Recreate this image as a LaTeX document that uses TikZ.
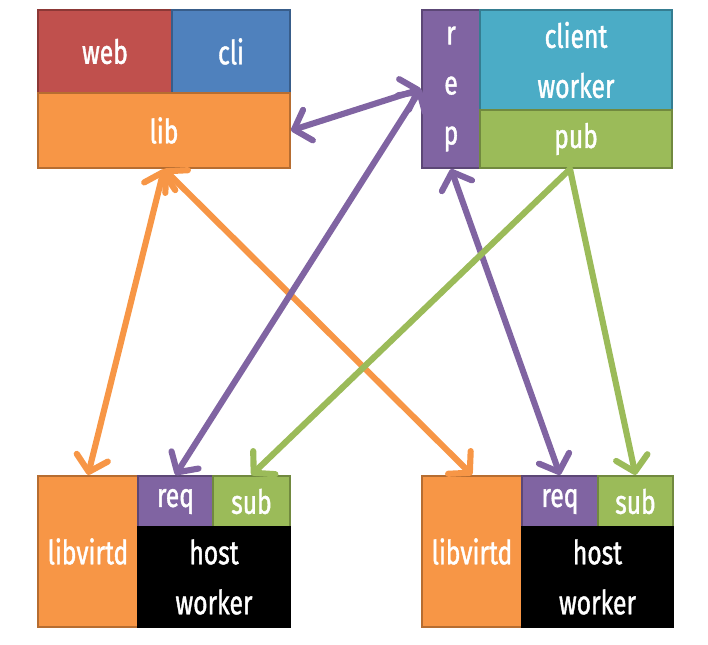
\documentclass[tikz,border=0pt]{standalone}
\usepackage{fontspec}
\setmainfont[FakeStretch=0.74,FakeBold=1.2]{Fira Sans}
\usetikzlibrary{arrows.meta}
\definecolor{cred}{HTML}{C0504D}
\definecolor{credd}{HTML}{8C3836}
\definecolor{cblue}{HTML}{4F81BD}
\definecolor{cblued}{HTML}{385D8A}
\definecolor{corange}{HTML}{F79646}
\definecolor{coranged}{HTML}{B66D31}
\definecolor{cpurple}{HTML}{8064A2}
\definecolor{cpurpled}{HTML}{5C4776}
\definecolor{cteal}{HTML}{4BACC6}
\definecolor{cteald}{HTML}{357D91}
\definecolor{cgreen}{HTML}{9BBB59}
\definecolor{cgreend}{HTML}{71893F}
\tikzset{
  cellbox/.style={draw, line width=1.6pt, inner sep=0pt, text=white,
    font=\fontsize{25}{37.5}\selectfont, align=center},
  barb/.tip={Straight Barb[length=11pt,width=24pt,line cap=round,line join=round]},
  link/.style={line width=4.6pt, line cap=round, barb-barb},
  onelink/.style={line width=4.6pt, line cap=round, -barb}
}
\begin{document}
\begin{tikzpicture}[x=0.75pt,y=-0.75pt]
\useasboundingbox (0,0) rectangle (708,645);
% top-left block
\node[cellbox, fill=cred, draw=credd, minimum width=100.5pt, minimum height=62.25pt] (web) at (105,51.5) {web};
\node[cellbox, fill=cblue, draw=cblued, minimum width=88.5pt, minimum height=62.25pt] (cli) at (231,51.5) {cli};
\node[cellbox, fill=corange, draw=coranged, minimum width=189pt, minimum height=56.25pt] (lib) at (164,130.5) {lib};
% top-right block
\node[cellbox, fill=cpurple, draw=cpurpled, minimum width=43.5pt, minimum height=118.5pt] (rep) at (451,89) {r\\e\\p};
\node[cellbox, fill=cteal, draw=cteald, minimum width=144pt, minimum height=75pt] (cw) at (576,60) {client\\worker};
\node[cellbox, fill=cgreen, draw=cgreend, minimum width=144pt, minimum height=43.5pt] (pub) at (576,139) {pub};
% bottom-left block
\node[cellbox, fill=corange, draw=coranged, minimum width=75pt, minimum height=113.25pt] (lvl) at (88,551.5) {libvirtd};
\node[cellbox, fill=cpurple, draw=cpurpled, minimum width=56.25pt, minimum height=38.25pt] (reql) at (175.5,501.5) {req};
\node[cellbox, fill=cgreen, draw=cgreend, minimum width=57.75pt, minimum height=38.25pt] (subl) at (251.5,501.5) {sub};
\node[cellbox, fill=black, draw=black, minimum width=114pt, minimum height=75pt] (hwl) at (214,577) {host\\worker};
% bottom-right block
\node[cellbox, fill=corange, draw=coranged, minimum width=75pt, minimum height=113.25pt] (lvr) at (472,551.5) {libvirtd};
\node[cellbox, fill=cpurple, draw=cpurpled, minimum width=57pt, minimum height=38.25pt] (reqr) at (560,501.5) {req};
\node[cellbox, fill=cgreen, draw=cgreend, minimum width=56.25pt, minimum height=38.25pt] (subr) at (635.5,501.5) {sub};
\node[cellbox, fill=black, draw=black, minimum width=113.25pt, minimum height=75pt] (hwr) at (597.5,577) {host\\worker};
% connectors
\coordinate (pubout) at ([xshift=-4.5pt]pub.south);
\draw[link, draw=corange] (lib.south) -- (lvl.north);
\draw[link, draw=corange] (lib.south) -- (lvr.north);
\draw[link, draw=cpurple] (lib.east) -- (rep.west);
\draw[link, draw=cpurple] (rep.west) -- (reql.north);
\draw[link, draw=cpurple] (rep.south) -- (reqr.north);
\draw[onelink, draw=cgreen] (pubout) -- (subl.north);
\draw[onelink, draw=cgreen] (pubout) -- (subr.north);
\end{tikzpicture}
\end{document}
